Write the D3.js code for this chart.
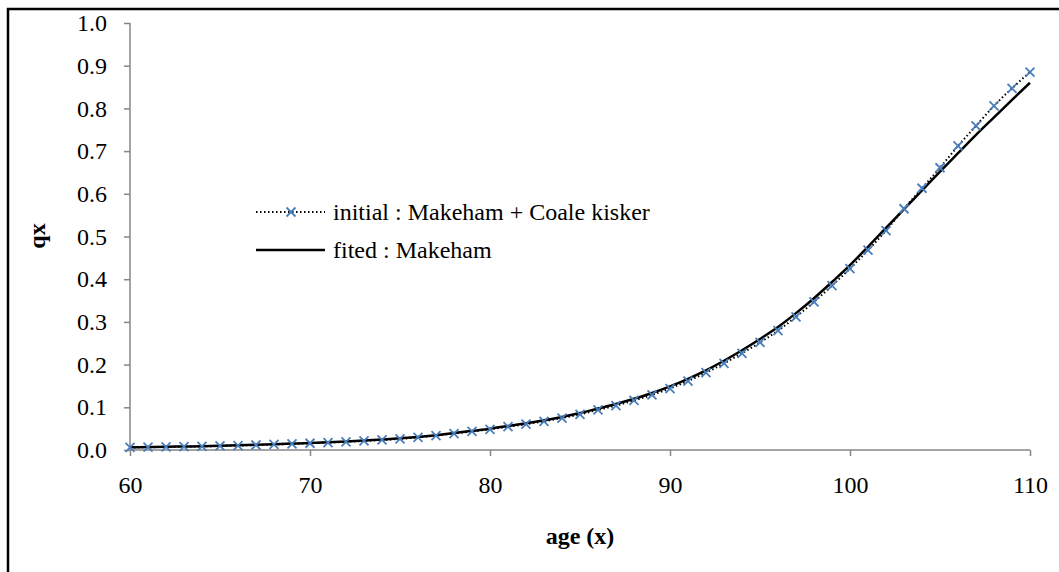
<!DOCTYPE html>
<html>
<head>
<meta charset="utf-8">
<script src="https://cdn.jsdelivr.net/npm/d3@7"></script>
<style>
  body { margin: 0; background: #fff; }
  svg { display: block; font-family: "Liberation Serif", "Times New Roman", serif; }
</style>
</head>
<body>
<div id="chart"></div>
<script>
// ages 60..110
const ages = d3.range(60, 111);

// initial : Makeham + Coale kisker
const initialQx = [
  0.0060, 0.0065, 0.0071, 0.0078, 0.0086, 0.0095, 0.0105, 0.0117, 0.0130, 0.0144,
  0.0158, 0.0174, 0.0192, 0.0212, 0.0235, 0.0261, 0.0297, 0.0337, 0.0385, 0.0435,
  0.0485, 0.0545, 0.0605, 0.0672, 0.0748, 0.0835, 0.0940, 0.1040, 0.1160, 0.1290,
  0.1440, 0.1615, 0.1810, 0.2030, 0.2265, 0.2520, 0.2795, 0.3120, 0.3470, 0.3850,
  0.4250, 0.4680, 0.5140, 0.5650, 0.6130, 0.6610, 0.7120, 0.7590, 0.8060, 0.8470,
  0.8850
];

// fited : Makeham
const fittedQx = [
  0.0062, 0.0068, 0.0074, 0.0082, 0.0090, 0.0099, 0.0110, 0.0122, 0.0135, 0.0150,
  0.0165, 0.0182, 0.0201, 0.0222, 0.0246, 0.0273, 0.0307, 0.0348, 0.0396, 0.0448,
  0.0500, 0.0562, 0.0625, 0.0695, 0.0775, 0.0865, 0.0972, 0.1078, 0.1200, 0.1335,
  0.1490, 0.1668, 0.1866, 0.2090, 0.2335, 0.2600, 0.2880, 0.3205, 0.3555, 0.3935,
  0.4330, 0.4760, 0.5200, 0.5640, 0.6080, 0.6520, 0.6950, 0.7380, 0.7790, 0.8200,
  0.8600
];

const xTicks = [60, 70, 80, 90, 100, 110];
const yTicks = d3.range(0, 11).map(d => d / 10);

const width = 1059;
const height = 572;
const fontSize = "24px";

const svg = d3.select("#chart").append("svg")
  .attr("width", width)
  .attr("height", height);

// frame (only left and top edges are visible)
svg.append("path")
  .attr("d", `M8,${height} V9 H${width}`)
  .attr("fill", "none")
  .attr("stroke", "#000")
  .attr("stroke-width", 2.5);

const x = d3.scaleLinear().domain([60, 110]).range([130, 1030]);
const y = d3.scaleLinear().domain([0, 1]).range([450, 23]);

const axisColor = "#868686";

// x axis
const xAxis = svg.append("g")
  .attr("transform", `translate(0,${y(0)})`)
  .call(d3.axisBottom(x).tickValues(xTicks).tickSize(6).tickPadding(20).tickFormat(d3.format("d")));
xAxis.select(".domain").attr("stroke", axisColor).attr("stroke-width", 1.5)
  .attr("d", `M${x(60)},0H${x(110)}`);
xAxis.selectAll(".tick line").attr("stroke", axisColor).attr("stroke-width", 1.5);
xAxis.selectAll(".tick text")
  .attr("fill", "#000")
  .style("font-size", fontSize)
  .style("font-family", "Liberation Serif, serif");

// y axis
const yAxis = svg.append("g")
  .attr("transform", `translate(${x(60)},0)`)
  .call(d3.axisLeft(y).tickValues(yTicks).tickSize(6).tickPadding(17).tickFormat(d3.format(".1f")));
yAxis.select(".domain").attr("stroke", axisColor).attr("stroke-width", 1.5)
  .attr("d", `M0,${y(1)}V${y(0)}`);
yAxis.selectAll(".tick line").attr("stroke", axisColor).attr("stroke-width", 1.5);
yAxis.selectAll(".tick text")
  .attr("fill", "#000")
  .style("font-size", fontSize)
  .style("font-family", "Liberation Serif, serif");

// axis titles
svg.append("text")
  .attr("x", 580).attr("y", 544)
  .attr("text-anchor", "middle")
  .style("font-size", fontSize).style("font-weight", "bold")
  .text("age (x)");

svg.append("text")
  .attr("transform", "translate(45,236) rotate(-90)")
  .attr("text-anchor", "middle")
  .style("font-size", fontSize).style("font-weight", "bold")
  .text("qx");

const line = d3.line().curve(d3.curveMonotoneX);

// fitted line
svg.append("path")
  .attr("d", line(ages.map((a, i) => [x(a), y(fittedQx[i])])))
  .attr("fill", "none")
  .attr("stroke", "#000")
  .attr("stroke-width", 2.5);

// initial dotted line
svg.append("path")
  .attr("d", line(ages.map((a, i) => [x(a), y(initialQx[i])])))
  .attr("fill", "none")
  .attr("stroke", "#000")
  .attr("stroke-width", 2)
  .attr("stroke-dasharray", "1.5,2.5");

const blue = "#4a7ebb";
const crossPath = s => `M${-s},${-s}L${s},${s}M${-s},${s}L${s},${-s}`;

svg.append("g")
  .selectAll("path")
  .data(ages)
  .join("path")
  .attr("transform", (a, i) => `translate(${x(a)},${y(initialQx[i])})`)
  .attr("d", crossPath(4.5))
  .attr("stroke", blue)
  .attr("stroke-width", 1.8)
  .attr("fill", "none");

// legend
const legend = svg.append("g");
legend.append("line")
  .attr("x1", 256).attr("x2", 325).attr("y1", 212).attr("y2", 212)
  .attr("stroke", "#000").attr("stroke-width", 2).attr("stroke-dasharray", "1.5,2.5");
legend.append("path")
  .attr("transform", "translate(291,212)")
  .attr("d", crossPath(4.5))
  .attr("stroke", blue).attr("stroke-width", 1.8);
legend.append("text")
  .attr("x", 333).attr("y", 220)
  .style("font-size", fontSize)
  .text("initial : Makeham + Coale kisker");

legend.append("line")
  .attr("x1", 256).attr("x2", 325).attr("y1", 250).attr("y2", 250)
  .attr("stroke", "#000").attr("stroke-width", 2.5);
legend.append("text")
  .attr("x", 333).attr("y", 258)
  .style("font-size", fontSize)
  .text("fited : Makeham");
</script>
</body>
</html>
